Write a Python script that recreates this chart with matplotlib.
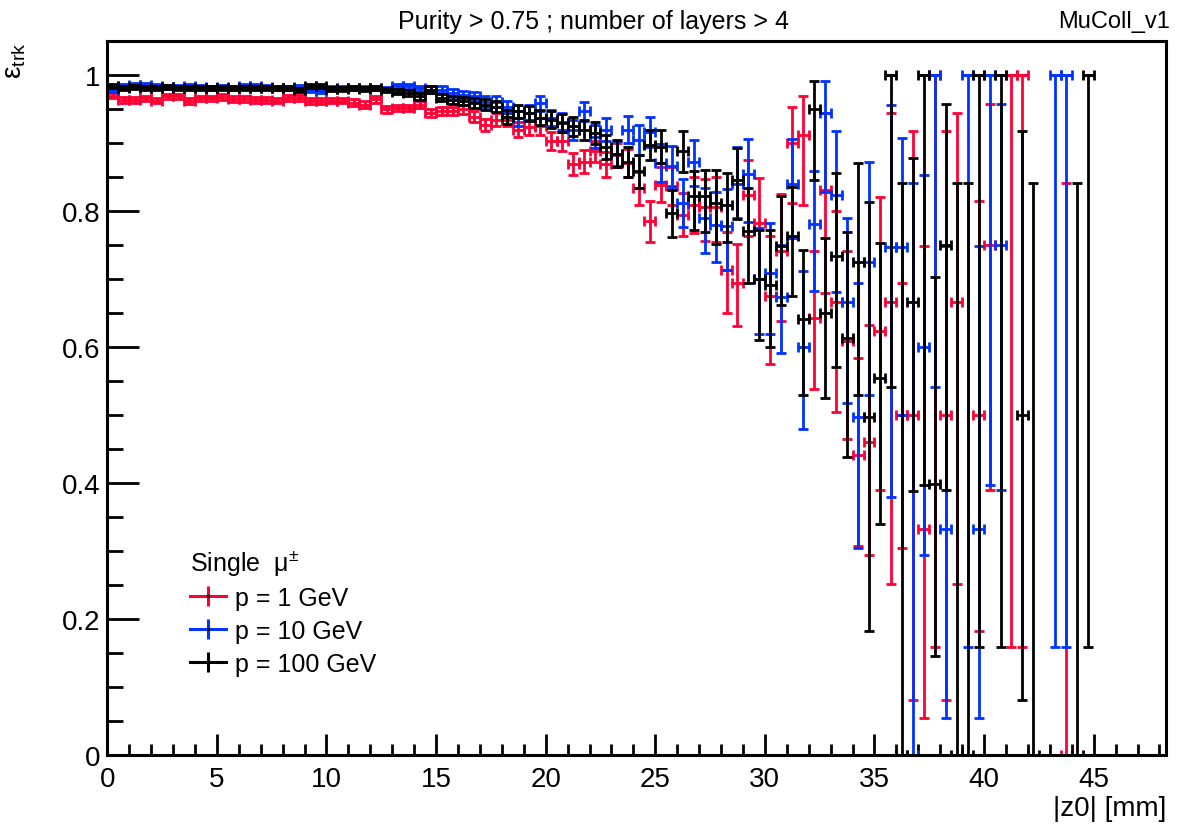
import numpy as np
import matplotlib
matplotlib.use("Agg")
import matplotlib.pyplot as plt
from matplotlib.lines import Line2D
from matplotlib.ticker import MultipleLocator
from matplotlib.legend_handler import HandlerTuple

plt.rcParams['font.family'] = ['Liberation Sans', 'DejaVu Sans']
plt.rcParams['mathtext.fontset'] = 'custom'
plt.rcParams['mathtext.rm'] = 'Liberation Sans'
plt.rcParams['mathtext.it'] = 'Liberation Sans:italic'

# ---------------- data ----------------
bin_half_width = 0.25
z_dense = np.arange(0.25, 26.5, 0.5)          # bin centres 0.25 ... 26.25 mm

# p = 1 GeV (red)
red_eff_dense = [0.970, 0.964, 0.964, 0.966, 0.963, 0.969, 0.969, 0.962, 0.966, 0.966,
                 0.968, 0.965, 0.965, 0.964, 0.964, 0.963, 0.967, 0.967, 0.962, 0.962,
                 0.963, 0.963, 0.960, 0.957, 0.965, 0.950,
                 0.952, 0.952, 0.957, 0.945, 0.948, 0.947, 0.950, 0.939, 0.927, 0.935,
                 0.935, 0.920, 0.924, 0.925, 0.903, 0.903, 0.870, 0.873, 0.888, 0.869,
                 0.883, 0.871, 0.834, 0.785, 0.839, 0.837, 0.795]
red_err_dense = [0.004, 0.004, 0.004, 0.004, 0.004, 0.004, 0.004, 0.004, 0.004, 0.004,
                 0.004, 0.004, 0.004, 0.004, 0.004, 0.004, 0.004, 0.004, 0.004, 0.004,
                 0.004, 0.004, 0.005, 0.005, 0.005, 0.005,
                 0.005, 0.005, 0.005, 0.006, 0.006, 0.006, 0.007, 0.008, 0.009, 0.009,
                 0.010, 0.011, 0.011, 0.012, 0.013, 0.014, 0.016, 0.017, 0.016, 0.018,
                 0.018, 0.020, 0.024, 0.030, 0.026, 0.028, 0.032]
red_z_sparse = [26.75, 27.25, 27.75, 28.25, 28.75, 29.25, 29.75, 30.25, 30.75, 31.25,
                31.75, 32.25, 32.75, 33.25, 33.75, 34.25, 34.75, 35.25, 35.75, 36.25,
                36.75, 37.25, 37.75, 38.25, 38.75, 39.75, 40.25, 41.25, 41.75, 43.75]
red_eff_sparse = [0.810, 0.806, 0.806, 0.714, 0.695, 0.824, 0.783, 0.676, 0.741, 0.900,
                  0.913, 0.643, 0.832, 0.666, 0.609, 0.442, 0.460, 0.624, 0.667, 0.500,
                  0.500, 0.333, 1.000, 0.500, 0.667, 0.500, 0.750, 1.000, 1.000, 0.000]
red_lo_sparse = [0.768, 0.756, 0.755, 0.650, 0.631, 0.763, 0.700, 0.576, 0.638, 0.812,
                 0.810, 0.539, 0.680, 0.504, 0.465, 0.308, 0.295, 0.390, 0.252, 0.305,
                 0.081, 0.054, 0.159, 0.081, 0.251, 0.183, 0.390, 0.159, 0.159, 0.000]
red_hi_sparse = [0.851, 0.848, 0.850, 0.770, 0.752, 0.876, 0.849, 0.763, 0.826, 0.954,
                 0.970, 0.741, 0.944, 0.800, 0.741, 0.584, 0.632, 0.821, 0.944, 0.695,
                 0.918, 0.749, 1.000, 0.918, 0.944, 0.815, 0.958, 1.000, 1.000, 0.841]

# p = 10 GeV (blue)
blue_eff_dense = [0.978, 0.984, 0.986, 0.986, 0.984, 0.983, 0.983, 0.984, 0.983, 0.982,
                  0.983, 0.982, 0.984, 0.984, 0.983, 0.982, 0.982, 0.983, 0.978, 0.977,
                  0.982, 0.982, 0.981, 0.981, 0.981, 0.980,
                  0.984, 0.984, 0.981, 0.979, 0.979, 0.974, 0.971, 0.969, 0.961, 0.961,
                  0.954, 0.937, 0.945, 0.959, 0.937, 0.932, 0.920, 0.947, 0.910, 0.920,
                  0.885, 0.920, 0.905, 0.917, 0.871, 0.866, 0.812]
blue_err_dense = [0.003, 0.003, 0.003, 0.003, 0.003, 0.003, 0.003, 0.003, 0.003, 0.003,
                  0.003, 0.003, 0.003, 0.003, 0.003, 0.003, 0.003, 0.003, 0.003, 0.003,
                  0.003, 0.003, 0.003, 0.003, 0.003, 0.003,
                  0.004, 0.004, 0.004, 0.005, 0.005, 0.006, 0.006, 0.007, 0.008, 0.008,
                  0.009, 0.011, 0.011, 0.011, 0.012, 0.013, 0.015, 0.014, 0.017, 0.017,
                  0.019, 0.020, 0.022, 0.022, 0.028, 0.030, 0.035]
blue_z_sparse = [26.75, 27.25, 27.75, 28.25, 28.75, 29.25, 29.75, 30.25, 30.75, 31.25,
                 31.75, 32.25, 32.75, 33.25, 33.75, 34.25, 34.75, 35.75, 36.25, 36.75,
                 37.25, 37.75, 38.25, 39.25, 39.75, 40.25, 40.75, 43.25, 43.75]
blue_eff_sparse = [0.873, 0.790, 0.780, 0.778, 0.840, 0.855, 0.700, 0.709, 0.674, 0.840,
                   0.600, 0.781, 0.944, 0.824, 0.666, 0.497, 0.726, 0.748, 0.748, 0.000,
                   0.600, 1.000, 0.333, 1.000, 0.333, 1.000, 0.750, 1.000, 1.000]
blue_lo_sparse = [0.837, 0.738, 0.725, 0.714, 0.790, 0.784, 0.620, 0.619, 0.591, 0.760,
                  0.479, 0.682, 0.829, 0.681, 0.518, 0.305, 0.530, 0.380, 0.500, 0.000,
                  0.295, 0.541, 0.054, 0.159, 0.054, 0.398, 0.390, 0.159, 0.159]
blue_hi_sparse = [0.905, 0.834, 0.829, 0.833, 0.895, 0.906, 0.775, 0.783, 0.750, 0.906,
                  0.712, 0.859, 0.991, 0.918, 0.790, 0.695, 0.872, 0.957, 0.908, 0.841,
                  0.853, 1.000, 0.749, 1.000, 0.749, 1.000, 0.958, 1.000, 1.000]

# p = 100 GeV (black)
black_eff_dense = [0.985, 0.981, 0.983, 0.982, 0.982, 0.983, 0.982, 0.981, 0.982, 0.982,
                   0.982, 0.981, 0.981, 0.982, 0.981, 0.981, 0.982, 0.978, 0.985, 0.985,
                   0.980, 0.980, 0.981, 0.980, 0.981, 0.978,
                   0.976, 0.974, 0.969, 0.979, 0.967, 0.964, 0.962, 0.959, 0.957, 0.954,
                   0.939, 0.947, 0.944, 0.938, 0.935, 0.930, 0.925, 0.920, 0.915, 0.895,
                   0.885, 0.873, 0.859, 0.897, 0.895, 0.797, 0.888]
black_err_dense = [0.003, 0.003, 0.003, 0.003, 0.003, 0.003, 0.003, 0.003, 0.003, 0.003,
                   0.003, 0.003, 0.003, 0.003, 0.003, 0.003, 0.003, 0.003, 0.003, 0.003,
                   0.003, 0.003, 0.003, 0.003, 0.003, 0.003,
                   0.004, 0.004, 0.005, 0.005, 0.005, 0.006, 0.006, 0.007, 0.008, 0.008,
                   0.010, 0.010, 0.011, 0.011, 0.012, 0.013, 0.014, 0.015, 0.016, 0.018,
                   0.020, 0.022, 0.024, 0.022, 0.024, 0.035, 0.030]
black_z_sparse = [26.75, 27.25, 27.75, 28.25, 28.75, 29.25, 29.75, 30.25, 30.75, 31.25,
                  31.75, 32.25, 32.75, 33.25, 33.75, 34.25, 34.75, 35.25, 35.75, 36.25,
                  36.75, 37.25, 37.75, 38.25, 38.75, 39.25, 39.75, 40.75, 41.75, 42.25,
                  44.25, 44.75]
black_eff_sparse = [0.822, 0.822, 0.812, 0.810, 0.846, 0.771, 0.700, 0.692, 0.749, 0.763,
                    0.641, 0.951, 0.651, 0.734, 0.614, 0.726, 0.497, 0.554, 1.000, 0.000,
                    0.667, 1.000, 0.399, 0.750, 0.000, 0.000, 1.000, 1.000, 0.500, 0.000,
                    0.000, 1.000]
black_lo_sparse = [0.773, 0.769, 0.752, 0.755, 0.788, 0.694, 0.611, 0.600, 0.662, 0.675,
                   0.530, 0.846, 0.525, 0.571, 0.438, 0.530, 0.183, 0.340, 0.541, 0.000,
                   0.388, 0.398, 0.145, 0.390, 0.000, 0.000, 0.159, 0.159, 0.081, 0.000,
                   0.000, 0.159]
black_hi_sparse = [0.859, 0.861, 0.861, 0.856, 0.893, 0.834, 0.773, 0.772, 0.822, 0.836,
                   0.743, 0.991, 0.761, 0.856, 0.770, 0.871, 0.814, 0.754, 1.000, 0.841,
                   0.879, 1.000, 0.704, 0.958, 0.841, 0.841, 1.000, 1.000, 0.918, 0.841,
                   0.841, 1.000]

series = [
    ("p = 1 GeV", "#ff0033", red_eff_dense, red_err_dense, red_z_sparse,
     red_eff_sparse, red_lo_sparse, red_hi_sparse),
    ("p = 10 GeV", "#0033ff", blue_eff_dense, blue_err_dense, blue_z_sparse,
     blue_eff_sparse, blue_lo_sparse, blue_hi_sparse),
    ("p = 100 GeV", "#000000", black_eff_dense, black_err_dense, black_z_sparse,
     black_eff_sparse, black_lo_sparse, black_hi_sparse),
]

title_text = "Purity > 0.75 ; number of layers > 4"
tag_text = "MuColl_v1"
legend_title = r"Single  $\mathrm{μ}^{\pm}$"

# ---------------- figure ----------------
W, H = 1178, 828
fig = plt.figure(figsize=(W / 100, H / 100), dpi=100)
ax = fig.add_axes([107.3 / W, 1 - 756 / H, (1166 - 107.3) / W, (756 - 42.4) / H])

lw = 2.0
for label, color, eff_d, err_d, z_s, eff_s, lo_s, hi_s in series:
    z = np.concatenate([z_dense, np.array(z_s)])
    eff = np.concatenate([np.array(eff_d), np.array(eff_s)])
    elo = np.concatenate([np.array(err_d), np.array(eff_s) - np.array(lo_s)])
    ehi = np.concatenate([np.array(err_d), np.array(hi_s) - np.array(eff_s)])
    ax.errorbar(z, eff, yerr=[elo, ehi], xerr=bin_half_width, fmt='none',
                ecolor=color, elinewidth=lw, capsize=3.8, capthick=lw, clip_on=True)

ax.set_xlim(0, 48.3)
ax.set_ylim(0, 1.05)
ax.xaxis.set_major_locator(MultipleLocator(5))
ax.xaxis.set_minor_locator(MultipleLocator(1))
ax.yaxis.set_minor_locator(MultipleLocator(0.05))
ax.set_yticks([0, 0.2, 0.4, 0.6, 0.8, 1.0])
ax.set_yticklabels(["0", "0.2", "0.4", "0.6", "0.8", "1"])

ax.tick_params(axis='both', which='both', direction='in', top=False, right=False,
               width=2.0, labelsize=20)
ax.tick_params(axis='y', which='major', length=23, pad=5)
ax.tick_params(axis='y', which='minor', length=11.5)
ax.tick_params(axis='x', which='major', length=15.4, pad=8)
ax.tick_params(axis='x', which='minor', length=7.7)
for sp in ax.spines.values():
    sp.set_linewidth(2.2)

ax.set_xlabel("|z0| [mm]", fontsize=20, loc='right', labelpad=2)
ax.set_ylabel(r"$\mathrm{ε}_{\mathrm{trk}}$", fontsize=20, loc='top', labelpad=0)
ax.yaxis.set_label_coords(-0.075, 1.0)

fig.text(593 / W, 1 - 22 / H, title_text, ha='center', va='center', fontsize=18)
fig.text(1170 / W, 1 - 22 / H, tag_text, ha='right', va='center', fontsize=17)

handles = []
for label, color, *_ in series:
    h_line = Line2D([], [], color=color, lw=2.2)
    v_line = Line2D([], [], color=color, marker='|', markersize=15,
                    markeredgewidth=2.2, linestyle='none')
    dot = Line2D([], [], color='black', marker='s', markersize=2, linestyle='none')
    handles.append((h_line, v_line, dot))
leg = ax.legend(handles, [s[0] for s in series], title=legend_title,
                loc='upper left', bbox_to_anchor=(170 / W, 1 - 528 / H),
                bbox_transform=fig.transFigure, frameon=False, fontsize=18,
                title_fontsize=18, handlelength=1.45, handletextpad=0.35,
                labelspacing=0.36, alignment='left', borderpad=0.3,
                handler_map={tuple: HandlerTuple(ndivide=1, pad=0)})

fig.savefig("out.png", dpi=100)
